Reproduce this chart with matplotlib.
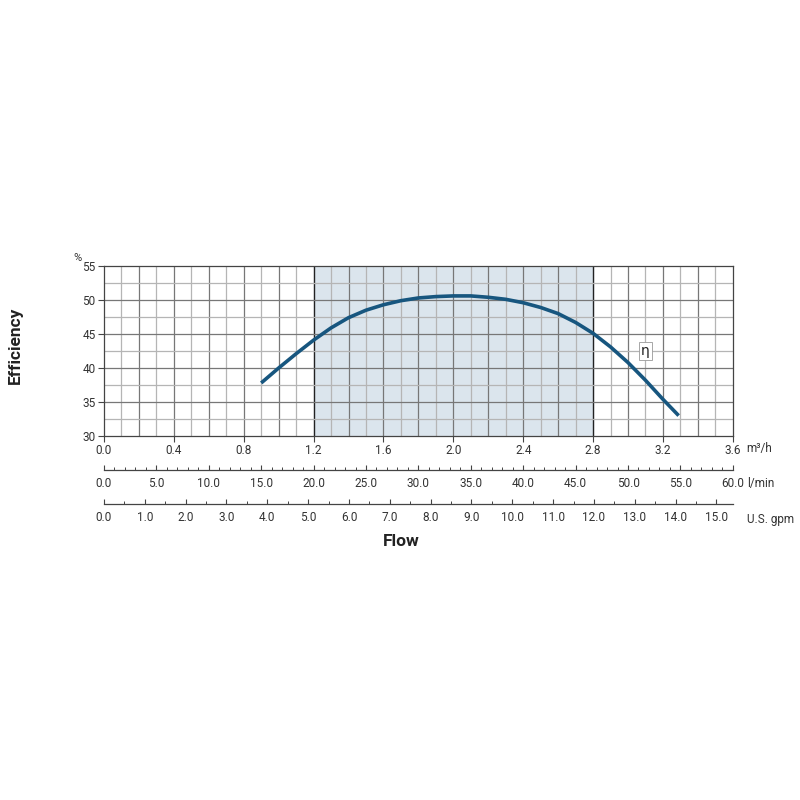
import numpy as np
import matplotlib
matplotlib.use("Agg")
from matplotlib import pyplot as plt
from matplotlib.ticker import MultipleLocator, FixedLocator

# efficiency curve (flow in m3/h, efficiency in %)
flow_m3h = [0.90, 1.0, 1.1, 1.2, 1.3, 1.4, 1.5, 1.6, 1.7, 1.8, 1.9, 2.0, 2.1,
            2.2, 2.3, 2.4, 2.5, 2.6, 2.7, 2.8, 2.9, 3.0, 3.1, 3.2, 3.29]
eff_pct = [37.8, 40.0, 42.1, 44.1, 45.9, 47.4, 48.5, 49.3, 49.9, 50.3, 50.5,
           50.6, 50.6, 50.4, 50.1, 49.6, 48.9, 48.0, 46.7, 45.1, 43.1, 40.8,
           38.2, 35.4, 33.0]
range_lo, range_hi = 1.2, 2.8
m3h_ticks = [0.0, 0.4, 0.8, 1.2, 1.6, 2.0, 2.4, 2.8, 3.2, 3.6]
eff_ticks = [30, 35, 40, 45, 50, 55]
lmin_ticks = [0.0, 5.0, 10.0, 15.0, 20.0, 25.0, 30.0, 35.0, 40.0, 45.0, 50.0, 55.0, 60.0]
gpm_ticks = [0.0, 1.0, 2.0, 3.0, 4.0, 5.0, 6.0, 7.0, 8.0, 9.0, 10.0, 11.0, 12.0, 13.0, 14.0, 15.0]
GPM_M3H = 3.6 / 15.4  # scale as drawn on the sheet

plt.rcParams['font.family'] = ['Roboto', 'DejaVu Sans']
txtc = '#333333'
fs = 8.5
fig = plt.figure(figsize=(8, 8), dpi=100)
ax = fig.add_axes([0.13, 0.455, 0.786, 0.2125])

ax.set_xlim(0, 3.6)
ax.set_ylim(30, 55)
ax.axvspan(range_lo, range_hi, color='#dbe5ed', zorder=0)

# grid
for x in np.arange(0.1, 3.6, 0.1):
    x = round(x, 1)
    if abs(x - range_lo) < 1e-6 or abs(x - range_hi) < 1e-6:
        ax.axvline(x, color='#222222', lw=1.0, zorder=1)
    elif abs(round(x / 0.2) * 0.2 - x) < 1e-6:
        ax.axvline(x, color='#777777', lw=0.9, zorder=1)
    else:
        ax.axvline(x, color='#b5b5b5', lw=0.9, zorder=1)
for y in np.arange(32.5, 55, 2.5):
    if abs(y % 5) < 1e-6:
        ax.axhline(y, color='#777777', lw=0.9, zorder=1)
    else:
        ax.axhline(y, color='#b5b5b5', lw=0.9, zorder=1)

ax.plot(flow_m3h, eff_pct, color='#17567f', lw=2.6, solid_capstyle='butt', zorder=3)
ax.text(3.1, 42.5, 'η', fontsize=10, ha='center', va='center', color='#222222',
        family='DejaVu Sans',
        bbox=dict(boxstyle='square,pad=0.12', fc='white', ec='#999999', lw=0.6), zorder=4)

for s in ax.spines.values():
    s.set_color('#444444')
    s.set_linewidth(0.9)
ax.xaxis.set_major_locator(FixedLocator(m3h_ticks))
ax.yaxis.set_major_locator(FixedLocator(eff_ticks))
ax.set_xticklabels(['%.1f' % t for t in m3h_ticks])
ax.set_yticklabels(['%d' % t for t in eff_ticks])
ax.tick_params(axis='both', which='major', labelsize=fs, colors='#444444', labelcolor=txtc, length=4, width=0.8)
ax.tick_params(axis='x', pad=1.5)
ax.tick_params(axis='y', pad=2)
ax.text(1.022, -0.075, 'm³/h', transform=ax.transAxes, fontsize=fs, color=txtc, va='center', ha='left')
ax.text(-0.035, 1.045, '%', transform=ax.transAxes, fontsize=fs - 0.5, color=txtc, ha='right', va='center')

# secondary flow scales
lmin = ax.secondary_xaxis(-0.2, functions=(lambda v: v * 1000 / 60, lambda v: v * 60 / 1000))
lmin.xaxis.set_major_locator(FixedLocator(lmin_ticks))
lmin.xaxis.set_minor_locator(MultipleLocator(1.0))
lmin.set_xticklabels(['%.1f' % t for t in lmin_ticks])
gpm = ax.secondary_xaxis(-0.40, functions=(lambda v: v / GPM_M3H, lambda v: v * GPM_M3H))
gpm.xaxis.set_major_locator(FixedLocator(gpm_ticks))
gpm.xaxis.set_minor_locator(MultipleLocator(0.5))
gpm.set_xticklabels(['%.1f' % t for t in gpm_ticks])
for sec in (lmin, gpm):
    sec.spines['bottom'].set_color('#444444')
    sec.spines['bottom'].set_linewidth(0.9)
    sec.tick_params(which='major', direction='in', length=3.5, width=0.8, labelsize=fs,
                    colors='#444444', labelcolor=txtc, pad=5)
    sec.tick_params(which='minor', direction='in', length=2, width=0.7, colors='#444444')
ax.text(1.022, -0.28, 'l/min', transform=ax.transAxes, fontsize=fs, color=txtc, va='center', ha='left')
ax.text(1.022, -0.49, 'U.S. gpm', transform=ax.transAxes, fontsize=fs, color=txtc, va='center', ha='left')

fig.text(0.501, 0.323, 'Flow', fontsize=12.5, fontweight='bold', color='#222222', ha='center', va='center')
fig.text(0.019, 0.568, 'Efficiency', fontsize=12.5, fontweight='bold', color='#222222',
         ha='center', va='center', rotation=90)

fig.savefig('out.png', dpi=100, facecolor='white')
